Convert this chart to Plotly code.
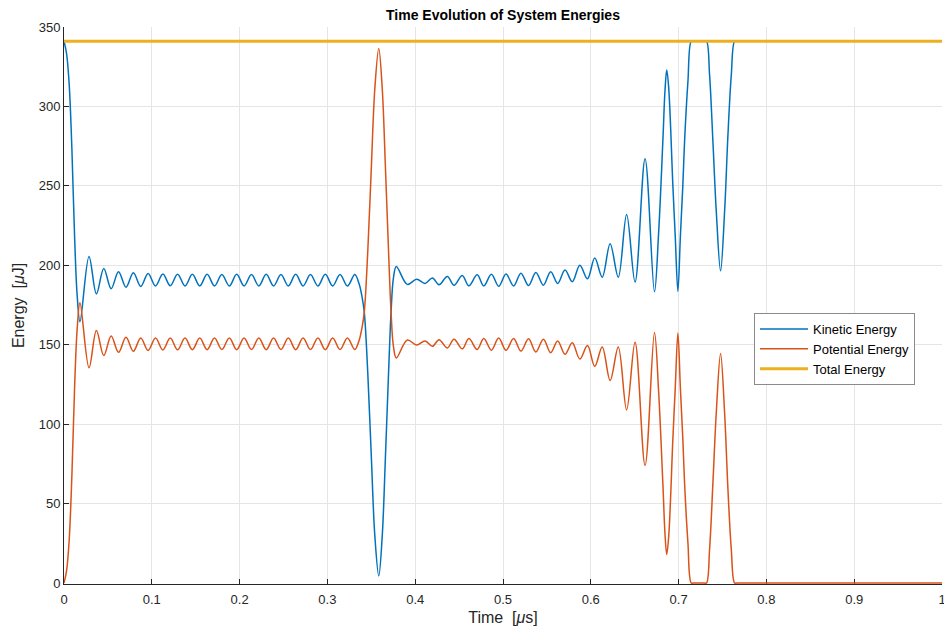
import plotly.graph_objects as go

# ---- data ----
time_us = [
    0.0000, 0.0030, 0.0060, 0.0090, 0.0120, 0.0150, 0.0182,
    0.0285, 0.0369, 0.0453, 0.0537, 0.0621, 0.0706, 0.0790, 0.0874, 0.0958, 0.1042,
    0.1126, 0.1210, 0.1294, 0.1378, 0.1462, 0.1546, 0.1630, 0.1714, 0.1798, 0.1883,
    0.1967, 0.2051, 0.2135, 0.2219, 0.2303, 0.2387, 0.2471, 0.2555, 0.2639, 0.2723,
    0.2807, 0.2892, 0.2976, 0.3060, 0.3144, 0.3228, 0.3312,
    0.3360, 0.3395, 0.3420, 0.3460, 0.3500, 0.3540, 0.3585, 0.3625, 0.3660, 0.3695,
    0.3725, 0.3752, 0.3785,
    0.3910, 0.4017, 0.4113, 0.4196, 0.4272, 0.4366, 0.4442, 0.4536, 0.4611, 0.4706,
    0.4781, 0.4868, 0.4951, 0.5034, 0.5121, 0.5204, 0.5291, 0.5374, 0.5460, 0.5543,
    0.5623, 0.5706, 0.5789, 0.5875, 0.5962, 0.6045, 0.6130, 0.6220, 0.6313, 0.6408,
    0.6504, 0.6618, 0.6725,
    0.6772, 0.6822, 0.6845, 0.6865, 0.6887, 0.6935, 0.6962, 0.6992, 0.7020, 0.7048,
    0.7068, 0.7106, 0.7144, 0.7170,
    0.7231, 0.7292, 0.7318, 0.7353, 0.7391, 0.7429, 0.7478, 0.7524, 0.7562, 0.7600,
    0.7638, 0.7665,
    0.8000, 0.9000, 1.0000,
]

kinetic_uJ = [
    341.0, 333.0, 313.0, 273.0, 219.0, 181.0, 164.5,
    205.6, 182.0, 198.0, 185.3, 196.0, 186.2, 195.3, 186.7, 194.8, 187.0,
    194.5, 187.1, 194.4, 187.0, 194.3, 187.0, 194.3, 187.0, 194.2, 187.0,
    194.3, 187.0, 194.2, 187.0, 194.3, 187.0, 194.2, 187.0, 194.3, 187.0,
    194.2, 187.0, 194.3, 187.0, 194.2, 187.0, 194.2,
    188.5, 180.0, 170.5, 132.0, 80.0, 30.0, 4.5, 30.0, 78.0, 130.0,
    170.5, 192.0, 199.3,
    188.0, 191.2, 188.6, 192.0, 187.8, 193.0, 187.5, 193.6, 187.1, 194.0,
    187.0, 194.4, 186.8, 194.5, 187.0, 195.0, 187.3, 195.5, 187.5, 196.0,
    188.6, 197.0, 189.7, 200.0, 191.5, 204.6, 192.5, 213.5, 192.5, 232.0,
    189.5, 267.0, 183.3,
    220.0, 280.0, 310.0, 323.0, 312.0, 250.0, 218.0, 183.6, 218.0, 250.0,
    278.0, 315.5, 341.0, 341.0,
    341.0, 341.0, 341.0, 319.7, 277.8, 234.0, 196.5, 234.0, 282.0, 319.7,
    341.0, 341.0,
    341.0, 341.0, 341.0,
]

potential_uJ = [
    0.0, 8.0, 28.0, 68.0, 122.0, 160.0, 176.5,
    135.5, 159.0, 143.2, 155.5, 145.2, 154.7, 145.9, 154.3, 146.4, 154.2,
    146.7, 154.2, 146.8, 154.2, 146.9, 154.2, 146.9, 154.2, 147.0, 154.2,
    146.9, 154.2, 147.0, 154.2, 146.9, 154.2, 147.0, 154.2, 146.9, 154.2,
    147.0, 154.2, 146.9, 154.2, 147.0, 154.2, 147.0,
    152.5, 161.0, 170.5, 209.0, 261.0, 311.0, 336.5, 311.0, 263.0, 211.0,
    170.5, 149.0, 141.7,
    153.0, 149.8, 152.4, 149.0, 153.2, 148.0, 153.5, 147.4, 153.9, 147.0,
    154.0, 146.6, 154.2, 146.5, 154.0, 146.0, 153.7, 145.5, 153.5, 145.0,
    152.4, 144.0, 151.3, 141.0, 149.5, 136.4, 148.5, 127.5, 148.5, 109.0,
    151.5, 74.0, 157.7,
    121.0, 61.0, 31.0, 18.0, 29.0, 91.0, 123.0, 157.4, 123.0, 91.0,
    63.0, 25.5, 0.0, 0.0,
    0.0, 0.0, 0.0, 21.3, 63.2, 107.0, 144.5, 107.0, 59.0, 21.3,
    0.0, 0.0,
    0.0, 0.0, 0.0,
]

total_time_us = [0.0, 1.0]
total_uJ = [341.0, 341.0]

x_ticks = [0, 0.1, 0.2, 0.3, 0.4, 0.5, 0.6, 0.7, 0.8, 0.9, 1]
x_tick_labels = ["0", "0.1", "0.2", "0.3", "0.4", "0.5", "0.6", "0.7", "0.8", "0.9", "1"]
y_ticks = [0, 50, 100, 150, 200, 250, 300, 350]
y_tick_labels = ["0", "50", "100", "150", "200", "250", "300", "350"]

FONT = "Liberation Sans, Arial, Helvetica, sans-serif"
AX = "#262626"

fig = go.Figure()
fig.add_trace(go.Scatter(
    x=time_us, y=kinetic_uJ, mode="lines", name="Kinetic Energy",
    line=dict(color="#0072BD", width=1.5, shape="spline", smoothing=1.0),
))
fig.add_trace(go.Scatter(
    x=time_us, y=potential_uJ, mode="lines", name="Potential Energy",
    line=dict(color="#D95319", width=1.5, shape="spline", smoothing=1.0),
))
fig.add_trace(go.Scatter(
    x=total_time_us, y=total_uJ, mode="lines", name="Total Energy",
    line=dict(color="#EDB120", width=3),
))

fig.update_layout(
    width=944, height=630,
    margin=dict(l=64, r=2, t=27, b=46),
    paper_bgcolor="white", plot_bgcolor="white",
    font=dict(family=FONT, size=13, color=AX),
    title=dict(
        text="<b>Time Evolution of System Energies</b>",
        x=503 / 944, xanchor="center", xref="container",
        y=1 - 15 / 630, yanchor="middle", yref="container",
        font=dict(family=FONT, size=14, color="#000000"),
    ),
    legend=dict(
        x=(754 - 64) / 878, y=(584 - 313) / 557, xanchor="left", yanchor="top",
        bgcolor="white", bordercolor="#8a8a8a", borderwidth=1,
        font=dict(family=FONT, size=13, color="#000000"),
        tracegroupgap=0, itemwidth=48,
    ),
    showlegend=True,
)

fig.update_xaxes(
    range=[0, 1], tickvals=x_ticks, ticktext=x_tick_labels,
    showgrid=True, gridcolor="#e5e5e5", gridwidth=1,
    zeroline=False, showline=True, linecolor=AX, linewidth=1,
    ticks="inside", ticklen=5, tickcolor=AX, layer="below traces",
    ticklabeloverflow="allow", ticklabelstandoff=3, automargin=False,
    tickfont=dict(family=FONT, size=13, color=AX),
    title=dict(text="Time\u00a0\u00a0[<i>\u03bc</i>s]", font=dict(family=FONT, size=16, color=AX), standoff=6),
)
fig.update_yaxes(
    range=[-0.6, 350], tickvals=y_ticks, ticktext=y_tick_labels,
    showgrid=True, gridcolor="#e5e5e5", gridwidth=1,
    zeroline=False, showline=True, linecolor=AX, linewidth=1,
    ticks="inside", ticklen=5, tickcolor=AX, layer="below traces",
    automargin=False,
    tickfont=dict(family=FONT, size=13, color=AX),
    title=dict(text="Energy\u00a0\u00a0[<i>\u03bc</i>J]", font=dict(family=FONT, size=16, color=AX), standoff=10),
)

fig.write_html("out.html")
